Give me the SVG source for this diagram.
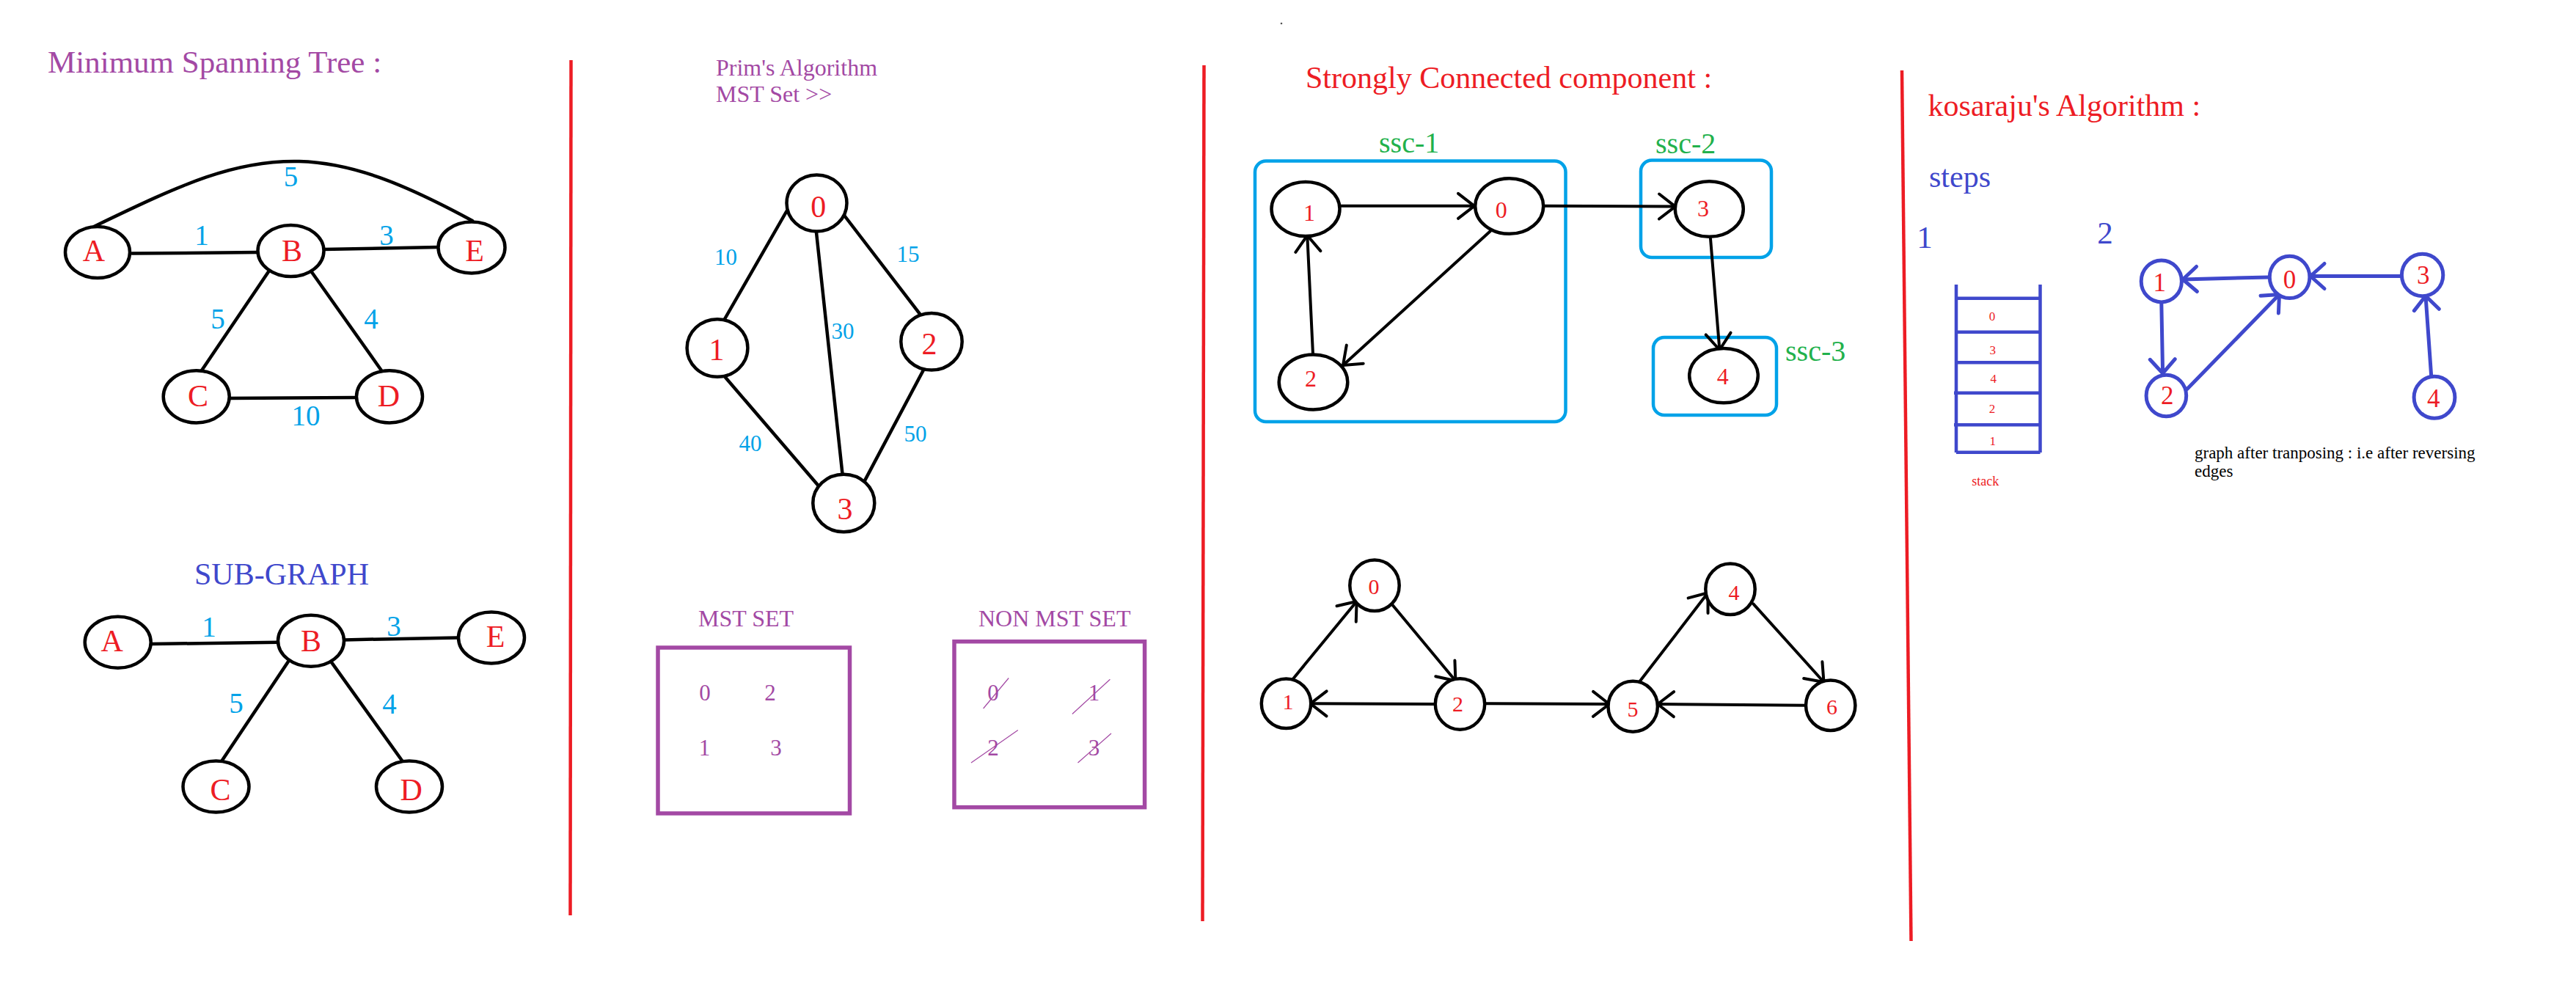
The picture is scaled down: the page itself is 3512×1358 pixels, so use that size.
<svg xmlns="http://www.w3.org/2000/svg" width="3512" height="1358" viewBox="0 0 3512 1358">
<style>
text{font-family:"Liberation Serif","Times New Roman",serif}
.ttl{fill:#A349A4}
.red{fill:#ED1C24}
.wt{fill:#00A2E8;text-anchor:middle}
.lbl{fill:#ED1C24;text-anchor:middle}
.nd{fill:#fff;stroke:#000;stroke-width:4.5}
.bn{fill:#fff;stroke:#3F48CC;stroke-width:5}
.ed{fill:none;stroke:#000;stroke-width:4.5;stroke-linecap:round}
.ar{fill:none;stroke:#000;stroke-width:4;stroke-linecap:round;marker-end:url(#ah)}
.bar{fill:none;stroke:#3F48CC;stroke-width:5;stroke-linecap:round;marker-end:url(#bh)}
.div{fill:none;stroke:#ED1C24;stroke-width:4.5}
.box{fill:none;stroke:#A349A4;stroke-width:5.5}
.ssc{fill:none;stroke:#00A2E8;stroke-width:4.5}
.grn{fill:#22B14C}
.ind{fill:#3F48CC}
.strike{stroke:#A349A4;stroke-width:1.2}
.stk{fill:none;stroke:#3F48CC;stroke-width:4.5}
</style>
<defs>
<marker id="ah" markerUnits="userSpaceOnUse" viewBox="-30 -30 60 60" markerWidth="60" markerHeight="60" refX="0" refY="0" orient="auto" overflow="visible">
<path d="M-22,-17 L0,0 L-22,17" fill="none" stroke="#000" stroke-width="4" stroke-linecap="round" stroke-linejoin="round"/>
</marker>
<marker id="bh" markerUnits="userSpaceOnUse" viewBox="-30 -30 60 60" markerWidth="60" markerHeight="60" refX="0" refY="0" orient="auto" overflow="visible">
<path d="M-19,-17 L0,0 L-19,17" fill="none" stroke="#3F48CC" stroke-width="5" stroke-linecap="round" stroke-linejoin="round"/>
</marker>
</defs>
<rect width="3512" height="1358" fill="#fff"/>

<g id="dividers">
<path class="div" d="M778.5,82 L777.5,1248"/>
<path class="div" d="M1641.5,89 L1639.5,1256"/>
<path class="div" d="M2593,96 L2605.5,1283"/>
<circle cx="1747" cy="32" r="1.3" fill="#555"/>
</g>

<!-- Section 1: Minimum Spanning Tree -->
<text class="ttl" x="65" y="99" font-size="43">Minimum Spanning Tree :</text>
<g id="mst-edges">
<path class="ed" d="M180,345.6 L352,344"/>
<path class="ed" d="M441,340 L597,337"/>
<path class="ed" d="M366.7,369.5 L275,505"/>
<path class="ed" d="M425,371 L521,506.5"/>
<path class="ed" d="M312,543 L486,542"/>
<path class="ed" d="M128,309 C250,250 320,218 408,220 C480,222 550,250 644,301"/>
<g font-size="39">
<text class="wt" x="396.5" y="254">5</text>
<text class="wt" x="275" y="334">1</text>
<text class="wt" x="527" y="334">3</text>
<text class="wt" x="297" y="448">5</text>
<text class="wt" x="506" y="448">4</text>
<text class="wt" x="417" y="580">10</text>
</g>
</g>
<g id="mst-A"><ellipse class="nd" cx="133" cy="344" rx="44" ry="35"/><text class="lbl" x="128" y="356" font-size="42">A</text></g>
<g id="mst-B"><ellipse class="nd" cx="396.5" cy="342" rx="45" ry="35"/><text class="lbl" x="398" y="356" font-size="42">B</text></g>
<g id="mst-E"><ellipse class="nd" cx="643" cy="337.4" rx="45.5" ry="35"/><text class="lbl" x="647" y="356" font-size="42">E</text></g>
<g id="mst-C"><ellipse class="nd" cx="267.7" cy="540.8" rx="45" ry="35.6"/><text class="lbl" x="270" y="554" font-size="42">C</text></g>
<g id="mst-D"><ellipse class="nd" cx="531" cy="540.8" rx="45" ry="35.6"/><text class="lbl" x="530" y="554" font-size="42">D</text></g>

<!-- Sub-graph -->
<text class="ind" x="265" y="797" font-size="42">SUB-GRAPH</text>
<g id="sub-edges">
<path class="ed" d="M205.5,878 L379,875.8"/>
<path class="ed" d="M469,872.4 L624,869.4"/>
<path class="ed" d="M394,900.5 L302,1038"/>
<path class="ed" d="M451.7,902.6 L548.8,1038"/>
<g font-size="39">
<text class="wt" x="285" y="868">1</text>
<text class="wt" x="537" y="867">3</text>
<text class="wt" x="322" y="972">5</text>
<text class="wt" x="531" y="973">4</text>
</g>
</g>
<g id="sub-A"><ellipse class="nd" cx="160.7" cy="875.8" rx="45" ry="35"/><text class="lbl" x="152.7" y="887.5" font-size="42">A</text></g>
<g id="sub-B"><ellipse class="nd" cx="424" cy="873.7" rx="45" ry="35"/><text class="lbl" x="424" y="887.5" font-size="42">B</text></g>
<g id="sub-E"><ellipse class="nd" cx="670" cy="869.4" rx="45" ry="35"/><text class="lbl" x="675.6" y="882" font-size="42">E</text></g>
<g id="sub-C"><ellipse class="nd" cx="294.5" cy="1072.6" rx="45" ry="35"/><text class="lbl" x="300.5" y="1090.7" font-size="42">C</text></g>
<g id="sub-D"><ellipse class="nd" cx="558" cy="1072.6" rx="45" ry="35"/><text class="lbl" x="560.7" y="1090.7" font-size="42">D</text></g>

<!-- Section 2: Prim's -->
<text class="ttl" x="976" y="103" font-size="32">Prim's Algorithm</text>
<text class="ttl" x="976" y="139" font-size="32">MST Set &gt;&gt;</text>
<g id="prim-edges">
<path class="ed" d="M1072.4,288 L987.4,436"/>
<path class="ed" d="M1152,295 L1254.5,428.6"/>
<path class="ed" d="M1113,317 L1148.6,647"/>
<path class="ed" d="M988.5,514 L1119,666"/>
<path class="ed" d="M1260,502.6 L1178.8,655.6"/>
<g font-size="31">
<text class="wt" x="989.5" y="361">10</text>
<text class="wt" x="1238" y="357">15</text>
<text class="wt" x="1149" y="462">30</text>
<text class="wt" x="1023" y="615">40</text>
<text class="wt" x="1248" y="602">50</text>
</g>
</g>
<g id="prim-0"><ellipse class="nd" cx="1113.5" cy="277" rx="41" ry="38.5"/><text class="lbl" x="1115.7" y="296" font-size="42">0</text></g>
<g id="prim-1"><ellipse class="nd" cx="978" cy="474.5" rx="41.4" ry="39.3"/><text class="lbl" x="977" y="491" font-size="42">1</text></g>
<g id="prim-2"><ellipse class="nd" cx="1270" cy="465.8" rx="41.7" ry="38.8"/><text class="lbl" x="1267" y="483" font-size="42">2</text></g>
<g id="prim-3"><ellipse class="nd" cx="1150.3" cy="686" rx="42" ry="39.3"/><text class="lbl" x="1152" y="708" font-size="42">3</text></g>

<g id="mst-set">
<text class="ttl" x="952" y="854" font-size="32">MST SET</text>
<rect class="box" x="897" y="883" width="261.5" height="226"/>
<g class="ttl" font-size="31" text-anchor="middle">
<text x="961" y="955">0</text><text x="1050" y="955">2</text>
<text x="960.5" y="1029.5">1</text><text x="1058" y="1029.5">3</text>
</g>
</g>
<g id="non-mst-set">
<text class="ttl" x="1334" y="854" font-size="32">NON MST SET</text>
<rect class="box" x="1301" y="874.7" width="259.6" height="226"/>
<g class="ttl" font-size="31" text-anchor="middle">
<text x="1354" y="955">0</text><text x="1491.5" y="955">1</text>
<text x="1354" y="1029.5">2</text><text x="1491.5" y="1029.5">3</text>
</g>
<path class="strike" d="M1340.6,966 L1375.2,924.5 M1461.9,973.5 L1513.4,926.3 M1324,1040 L1387.8,995.6 M1469.5,1040 L1515,1000"/>
</g>

<!-- Section 3: SCC -->
<text class="red" x="1780" y="119.6" font-size="42">Strongly Connected component :</text>
<g id="ssc-1"><rect class="ssc" x="1711" y="219.5" width="423.5" height="355.5" rx="15"/><text class="grn" x="1880" y="208" font-size="40">ssc-1</text></g>
<g id="ssc-2"><rect class="ssc" x="2237" y="218.4" width="178" height="132.6" rx="15"/><text class="grn" x="2257" y="209" font-size="40">ssc-2</text></g>
<g id="ssc-3"><rect class="ssc" x="2254" y="460" width="168" height="106" rx="15"/><text class="grn" x="2434" y="492" font-size="40">ssc-3</text></g>
<g id="scc-edges">
<path class="ar" d="M1827,280.8 L2010,280.8"/>
<path class="ar" d="M2103.8,280.8 L2284,281.6"/>
<path class="ar" d="M1790,482.9 L1782.3,321"/>
<path class="ar" d="M2032,315 L1831,498"/>
<path class="ar" d="M2332,325.3 L2344.4,477"/>
</g>
<g id="scc-1"><ellipse class="nd" cx="1780" cy="285" rx="46.5" ry="37"/><text class="lbl" x="1785" y="301" font-size="32">1</text></g>
<g id="scc-0"><ellipse class="nd" cx="2057.7" cy="281" rx="46.5" ry="37.8"/><text class="lbl" x="2046.8" y="297" font-size="32">0</text></g>
<g id="scc-2"><ellipse class="nd" cx="1790.5" cy="521" rx="46.8" ry="37.5"/><text class="lbl" x="1787" y="526.5" font-size="32">2</text></g>
<g id="scc-3"><ellipse class="nd" cx="2330.3" cy="285" rx="46.5" ry="37.8"/><text class="lbl" x="2322" y="294.7" font-size="32">3</text></g>
<g id="scc-4"><ellipse class="nd" cx="2350" cy="512.2" rx="46.8" ry="37.1"/><text class="lbl" x="2348.7" y="523.7" font-size="32">4</text></g>

<!-- SCC example 2 -->
<g id="scc2-edges">
<path class="ar" d="M1762,926.7 L1849.6,820"/>
<path class="ar" d="M1898.6,825 L1984.4,928.3"/>
<path class="ar" d="M1956.8,960 L1786.6,959.3"/>
<path class="ar" d="M2025.4,959.3 L2194,960"/>
<path class="ar" d="M2235.4,929.3 L2328.5,808.3"/>
<path class="ar" d="M2390.4,823.3 L2486.5,930"/>
<path class="ar" d="M2463.2,961.7 L2260,960"/>
</g>
<g id="g2-0"><ellipse class="nd" cx="1874" cy="798.3" rx="33.7" ry="34.7"/><text class="lbl" x="1873" y="810" font-size="30">0</text></g>
<g id="g2-1"><ellipse class="nd" cx="1753.5" cy="959.3" rx="33.7" ry="33.8"/><text class="lbl" x="1756" y="966.7" font-size="30">1</text></g>
<g id="g2-2"><ellipse class="nd" cx="1990.5" cy="960" rx="33.7" ry="34.7"/><text class="lbl" x="1987.4" y="970" font-size="30">2</text></g>
<g id="g2-4"><ellipse class="nd" cx="2359" cy="803.3" rx="33.7" ry="34.7"/><text class="lbl" x="2364" y="818.3" font-size="30">4</text></g>
<g id="g2-5"><ellipse class="nd" cx="2226.2" cy="963.3" rx="33.7" ry="34.5"/><text class="lbl" x="2226" y="976.7" font-size="30">5</text></g>
<g id="g2-6"><ellipse class="nd" cx="2495.7" cy="961.7" rx="33.7" ry="34.2"/><text class="lbl" x="2497.5" y="974" font-size="30">6</text></g>

<!-- Section 4: Kosaraju -->
<text class="red" x="2628.6" y="157.5" font-size="42">kosaraju's Algorithm :</text>
<text class="ind" x="2630" y="255" font-size="42">steps</text>
<text class="ind" x="2624" y="337.5" font-size="43" text-anchor="middle">1</text>
<text class="ind" x="2870" y="331.5" font-size="43" text-anchor="middle">2</text>

<g id="stack">
<path class="stk" d="M2667,388 V617 M2781.5,388 V617 M2667,406.7 H2781.5 M2667,452.7 H2781.5 M2667,494.3 H2781.5 M2664,535.7 H2781.5 M2664,579.3 H2781.5 M2667,616.7 H2781.5"/>
<g class="lbl" font-size="17">
<text x="2716" y="436.7">0</text>
<text x="2716.7" y="482.7">3</text>
<text x="2717.7" y="522.3">4</text>
<text x="2716" y="562.7">2</text>
<text x="2716.7" y="606.7">1</text>
</g>
<text class="lbl" x="2706.7" y="661.7" font-size="18">stack</text>
</g>

<g id="kos-edges">
<path class="bar" d="M3093,377.9 L2976,381"/>
<path class="bar" d="M3273.4,376.5 L3150,376.5"/>
<path class="bar" d="M2946.8,413.2 L2948.6,509"/>
<path class="bar" d="M2982,530.3 L3107.5,401.5"/>
<path class="bar" d="M3314.7,512.9 L3307,403.5"/>
</g>
<g id="kos-1"><ellipse class="bn" cx="2946.8" cy="383.4" rx="27.6" ry="28.5"/><text class="lbl" x="2944.3" y="397" font-size="35">1</text></g>
<g id="kos-0"><ellipse class="bn" cx="3121.6" cy="377.9" rx="27.3" ry="28.7"/><text class="lbl" x="3121.6" y="392.6" font-size="35">0</text></g>
<g id="kos-3"><ellipse class="bn" cx="3302.6" cy="375" rx="28.2" ry="28.7"/><text class="lbl" x="3303.8" y="387" font-size="35">3</text></g>
<g id="kos-2"><ellipse class="bn" cx="2953.4" cy="539.5" rx="27.3" ry="28.2"/><text class="lbl" x="2954.7" y="551" font-size="35">2</text></g>
<g id="kos-4"><ellipse class="bn" cx="3319" cy="541.8" rx="27.9" ry="28.5"/><text class="lbl" x="3317.7" y="554.6" font-size="35">4</text></g>
<text x="2992" y="625" font-size="23" fill="#000">graph after tranposing : i.e after reversing</text>
<text x="2992" y="650" font-size="23" fill="#000">edges</text>
</svg>
